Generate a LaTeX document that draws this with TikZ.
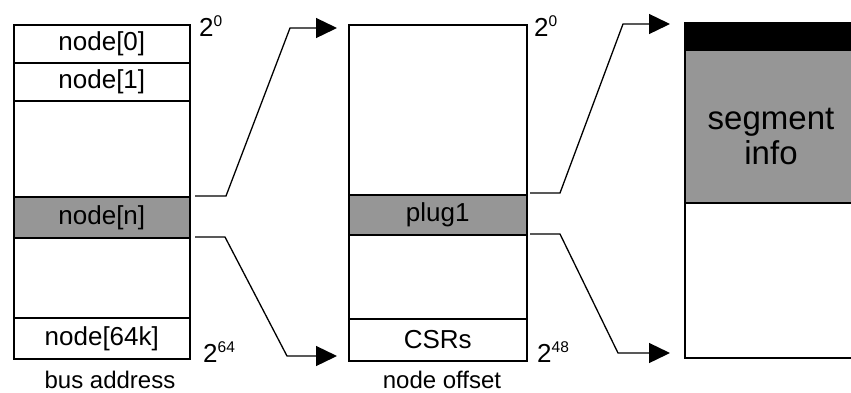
\documentclass[tikz,border=0pt]{standalone}
\usepackage{fontspec}
\setmainfont{Liberation Sans}
\usetikzlibrary{arrows.meta}
\definecolor{shadegray}{RGB}{150,150,150}
\tikzset{
  cell/.style={draw, line width=1.6pt, anchor=north west, inner sep=0pt,
               font=\fontsize{26}{30}\selectfont},
  shaded/.style={fill=shadegray},
  link/.style={line width=1.3pt, -{Triangle[length=21pt,width=20pt]}},
  power/.style={font=\fontsize{26}{28}\selectfont, anchor=base west, inner sep=0pt},
  caption/.style={font=\fontsize{24}{28}\selectfont, anchor=base, inner sep=0pt}
}
\newcommand{\pw}[2]{#1\raisebox{10pt}{\fontsize{15.5}{17}\selectfont #2}}
\begin{document}
\begin{tikzpicture}[x=1pt,y=-1pt]
  \useasboundingbox (0,0) rectangle (851,392);
  \clip (0,0) rectangle (851,392);

  % bus address space
  \node[cell, minimum width=176pt, minimum height=38pt] (n0) at (13,24) {node[0]};
  \node[cell, minimum width=176pt, minimum height=38pt] (n1) at (13,62) {node[1]};
  \node[cell, minimum width=176pt, minimum height=96pt] (gapA) at (13,100) {};
  \node[cell, shaded, minimum width=176pt, minimum height=41pt] (nn) at (13,196) {node[n]};
  \node[cell, minimum width=176pt, minimum height=80pt] (gapB) at (13,237) {};
  \node[cell, minimum width=176pt, minimum height=41pt] (nlast) at (13,317) {node[64k]};
  \node[power] (p0a) at (199,36) {\pw{2}{0}};
  \node[power] (p64) at (203,362) {\pw{2}{64}};
  \node[caption] (cap1) at (110,388) {bus address};

  % node offset space
  \node[cell, minimum width=178pt, minimum height=170pt] (top2) at (348,24) {};
  \node[cell, shaded, minimum width=178pt, minimum height=40pt] (plug) at (348,194) {plug1};
  \node[cell, minimum width=178pt, minimum height=84pt] (gapC) at (348,234) {};
  \node[cell, minimum width=178pt, minimum height=42pt] (csr) at (348,318) {CSRs};
  \node[power] (p0b) at (534,36) {\pw{2}{0}};
  \node[power] (p48) at (537,362) {\pw{2}{48}};
  \node[caption] (cap2) at (442,388) {node offset};

  % plug segment
  \node[cell, fill=black, minimum width=190pt, minimum height=27pt] (hdr) at (684,22) {};
  \node[cell, shaded, minimum width=190pt, minimum height=153pt] (seg) at (684,49) {};
  \node[cell, minimum width=190pt, minimum height=155pt] (rest) at (684,202) {};
  \node[font=\fontsize{33}{35}\selectfont, align=center, inner sep=0pt] (seglabel)
       at (771,136) {segment\\info};

  % zoom connectors
  \coordinate (a1) at (195,196); \coordinate (a2) at (226,196);
  \coordinate (a3) at (290,28);  \coordinate (a4) at (337,28);
  \coordinate (b1) at (195,237); \coordinate (b2) at (225,237);
  \coordinate (b3) at (287,356); \coordinate (b4) at (337,356);
  \coordinate (c1) at (530,193); \coordinate (c2) at (560,193);
  \coordinate (c3) at (623,24);  \coordinate (c4) at (670,24);
  \coordinate (d1) at (530,234); \coordinate (d2) at (560,234);
  \coordinate (d3) at (618,353); \coordinate (d4) at (670,353);
  \draw[link] (a1) -- (a2) -- (a3) -- (a4);
  \draw[link] (b1) -- (b2) -- (b3) -- (b4);
  \draw[link] (c1) -- (c2) -- (c3) -- (c4);
  \draw[link] (d1) -- (d2) -- (d3) -- (d4);
\end{tikzpicture}
\end{document}
